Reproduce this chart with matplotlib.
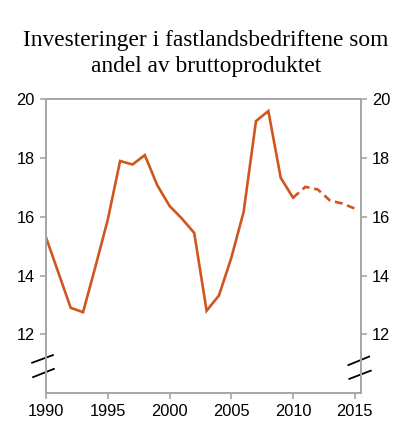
import matplotlib
matplotlib.use('Agg')
import matplotlib.pyplot as plt
from matplotlib.lines import Line2D

years = list(range(1990, 2016))
share = [15.3, 14.1, 12.9, 12.75, 14.3, 15.9, 17.9, 17.78, 18.1, 17.08,
         16.37, 15.94, 15.45, 12.8, 13.32, 14.6, 16.17, 19.26, 19.6, 17.33,
         16.65, 17.02, 16.93, 16.55, 16.45, 16.28]
last_actual = 2010

title = 'Investeringer i fastlandsbedriftene som\nandel av bruttoproduktet'
yticks = [12, 14, 16, 18, 20]
xticks = [1990, 1995, 2000, 2005, 2010, 2015]

plt.rcParams['font.family'] = ['Liberation Sans', 'DejaVu Sans']

color = '#D0561F'
grey = '#A6A6A6'

fig = plt.figure(figsize=(4, 4.48), dpi=100)
ax = fig.add_axes([0.115, 0.1228, 0.7875, 0.6555])

n = years.index(last_actual) + 1
ax.plot(years[:n], share[:n], c=color, lw=1.9, solid_joinstyle='miter')
ax.plot(years[n - 1:], share[n - 1:], c=color, lw=1.9, ls=(0, (3, 1.8)))

ax.set_xlim(1990, 2015.5)
ax.set_ylim(10, 20)
ax.set_xticks(xticks)
ax.set_yticks(yticks)

for s in ax.spines.values():
    s.set_color(grey)
    s.set_linewidth(1.4)

ax.tick_params(axis='both', direction='out', length=4, width=1.2, color=grey,
               labelsize=11.8, labelcolor='black', pad=4)
ax.tick_params(axis='y', right=True, labelright=True)

# brudd i y-aksen
breaks = [((-0.044, 0.022), (0.103, 0.129)), ((-0.041, 0.025), (0.054, 0.082)),
          ((0.960, 1.026), (0.095, 0.124)), ((0.963, 1.031), (0.048, 0.076))]
for xs, ys in breaks:
    ax.add_line(Line2D(xs, ys, transform=ax.transAxes, color='black', lw=1.3,
                       clip_on=False))

fig.text(0.515, 0.933, title, ha='center', va='top', fontsize=16.8,
         family='Liberation Serif', linespacing=1.3)

fig.savefig('out.png', dpi=100)
